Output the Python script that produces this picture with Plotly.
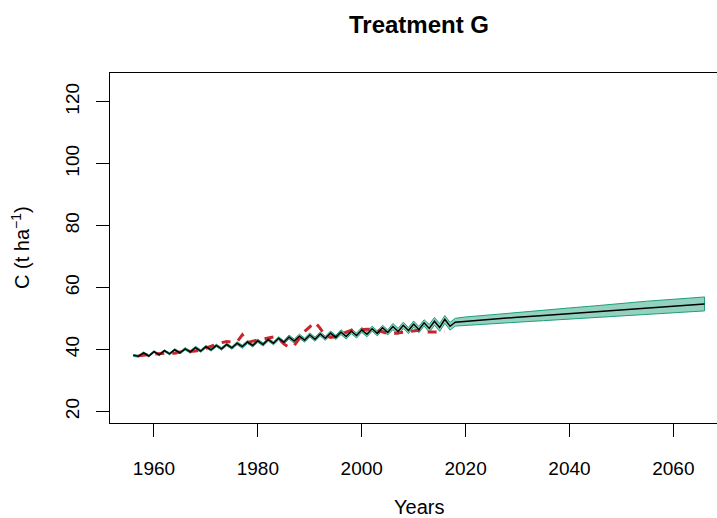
import plotly.graph_objects as go

# Simulated carbon stock (t/ha), yearly with alternating rotation pattern, then projection
sim_years = list(range(1956, 2019)) + [2020, 2025, 2030, 2035, 2040, 2045, 2050, 2055, 2060, 2066]
sim_values = [38.1, 37.8, 38.9, 37.9, 39.3, 38.3, 39.6, 38.6, 39.9, 38.9,
              40.2, 39.2, 40.6, 39.5, 40.9, 39.9, 41.3, 40.2, 41.6, 40.5,
              42.0, 40.9, 42.4, 41.3, 42.8, 41.6, 43.2, 42.0, 43.6, 42.3,
              44.0, 42.7, 44.3, 43.0, 44.7, 43.3, 45.0, 43.6, 45.3, 43.9,
              45.6, 44.2, 45.9, 44.5, 46.3, 44.9, 46.7, 45.2, 47.0, 45.5,
              47.4, 45.8, 47.8, 46.1, 48.2, 46.4, 48.6, 46.8, 49.1, 47.1,
              49.7, 47.5, 48.8,
              49.1, 49.7, 50.4, 51.0, 51.6, 52.2, 52.9, 53.5, 54.0, 54.7]
sim_halfwidth = [0.3] * 10 + [0.4] * 10 + [0.5] * 10 + [0.65] * 10 + [0.8] * 10 + [1.0] * 7 + [1.25] * 6 + \
                [1.4, 1.5, 1.6, 1.7, 1.8, 1.9, 2.0, 2.1, 2.2, 2.25]

# Observed carbon stock
obs_years = list(range(1957, 2017))
obs_values = [38.0, 38.2, 38.3, 38.5, 38.8, 38.8, 38.7, 38.8, 39.2, 39.3,
              39.3, 39.5, 39.8, 40.5, 41.0, 41.7, 42.2, 42.6, 42.4, 42.5,
              44.7, 42.2, 42.7, 43.0, 43.4, 43.6, 44.0, 43.5, 41.8, 40.7,
              41.3, 43.6, 45.8, 47.3, 48.8, 46.8, 44.4, 43.9, 44.2, 45.0,
              45.7, 46.2, 46.3, 46.3, 46.5, 46.6, 46.2, 45.7, 45.2, 45.1,
              45.3, 45.5, 45.7, 46.1, 46.2, 45.6, 45.6, 45.7, 45.7, 45.7]

x_ticks = [1960, 1980, 2000, 2020, 2040, 2060]
y_ticks = [20, 40, 60, 80, 100, 120]

upper = [v + h for v, h in zip(sim_values, sim_halfwidth)]
lower = [v - h for v, h in zip(sim_values, sim_halfwidth)]

FONT = "Liberation Sans, Arial, sans-serif"

# plot area in pixels
L, T, B = 110, 73, 423
W_PLOT = 717 - L
H_PLOT = B - T


def px_to_paper(px, py):
    return (px - L) / W_PLOT, (B - py) / H_PLOT


fig = go.Figure()
fig.add_trace(go.Scatter(
    x=sim_years + sim_years[::-1], y=upper + lower[::-1],
    fill="toself", fillcolor="#92d2bf", mode="lines",
    line=dict(color="#1f9e7c", width=1), hoverinfo="skip", showlegend=False))
fig.add_trace(go.Scatter(
    x=obs_years, y=obs_values, mode="lines",
    line=dict(color="#c8262c", width=3, dash="9px,8px"), showlegend=False))
fig.add_trace(go.Scatter(
    x=sim_years, y=sim_values, mode="lines",
    line=dict(color="black", width=1.5), showlegend=False))

tx, ty = px_to_paper(418.5, 24)
xx, xy = px_to_paper(418.5, 507)
yx, yy = px_to_paper(20, 248)

fig.update_layout(
    width=717, height=518,
    margin=dict(l=L, r=0, t=T, b=518 - B),
    plot_bgcolor="white", paper_bgcolor="white",
    font=dict(family=FONT, color="black"),
    xaxis=dict(range=[1951.53, 2068.4], tickvals=x_ticks, ticks="outside", ticklen=13,
               tickcolor="black", tickwidth=1, showline=True, linecolor="black", linewidth=1,
               mirror=True, showgrid=False, zeroline=False, tickfont=dict(size=19),
               ticklabelstandoff=15),
    yaxis=dict(range=[16.26, 129.26], tickvals=y_ticks, ticks="outside", ticklen=13,
               tickcolor="black", tickwidth=1, showline=True, linecolor="black", linewidth=1,
               mirror=False, showgrid=False, zeroline=False, tickfont=dict(size=19),
               tickangle=-90, ticklabelstandoff=9),
    annotations=[
        dict(text="<b>Treatment G</b>", x=tx, y=ty, xref="paper", yref="paper",
             showarrow=False, font=dict(size=24, family=FONT), xanchor="center", yanchor="middle"),
        dict(text="Years", x=xx, y=xy, xref="paper", yref="paper",
             showarrow=False, font=dict(size=20, family=FONT), xanchor="center", yanchor="middle"),
        dict(text="C (t ha<sup>\u22121</sup>)", x=yx, y=yy, xref="paper", yref="paper",
             showarrow=False, font=dict(size=20, family=FONT), textangle=-90,
             xanchor="center", yanchor="middle"),
    ],
)

fig.write_html("out.html")
